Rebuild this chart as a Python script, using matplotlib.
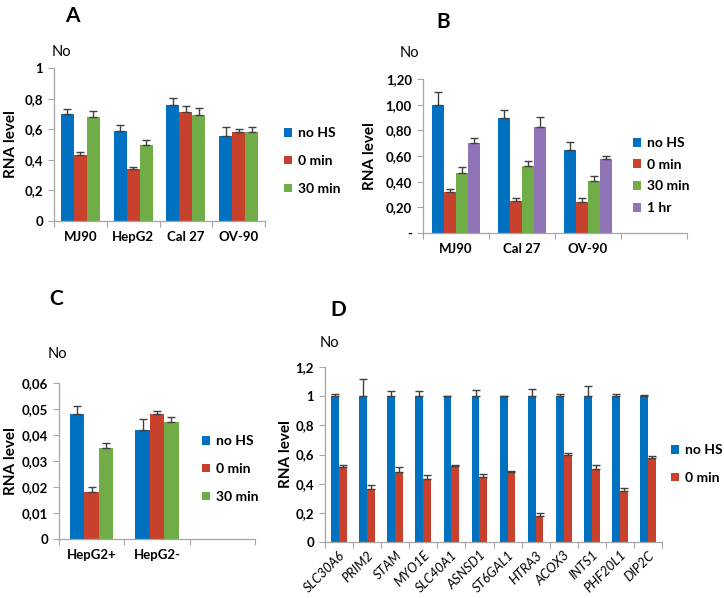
import numpy as np
import matplotlib
matplotlib.use("Agg")
import matplotlib.pyplot as plt
from matplotlib.patches import Patch

plt.rcParams['font.family'] = ['Lato', 'DejaVu Sans']

# ---------------- data ----------------
cats_a = ["MJ90", "HepG2", "Cal 27", "OV-90"]
a_nohs = [0.70, 0.59, 0.76, 0.555]
a_nohs_err = [0.035, 0.035, 0.041, 0.057]
a_0min = [0.43, 0.34, 0.71, 0.58]
a_0min_err = [0.02, 0.013, 0.039, 0.02]
a_30min = [0.68, 0.50, 0.69, 0.58]
a_30min_err = [0.042, 0.028, 0.048, 0.033]

cats_b = ["MJ90", "Cal 27", "OV-90"]
b_nohs = [1.00, 0.90, 0.65]
b_nohs_err = [0.096, 0.06, 0.06]
b_0min = [0.317, 0.249, 0.239]
b_0min_err = [0.028, 0.023, 0.034]
b_30min = [0.468, 0.519, 0.408]
b_30min_err = [0.047, 0.044, 0.036]
b_1hr = [0.70, 0.823, 0.579]
b_1hr_err = [0.042, 0.078, 0.023]

cats_c = ["HepG2+", "HepG2-"]
c_nohs = [0.048, 0.042]
c_nohs_err = [0.0033, 0.004]
c_0min = [0.018, 0.048]
c_0min_err = [0.0021, 0.0012]
c_30min = [0.035, 0.045]
c_30min_err = [0.002, 0.002]

genes_d = ["SLC30A6", "PRIM2", "STAM", "MYO1E", "SLC40A1", "ASNSD1",
           "ST6GAL1", "HTRA3", "ACOX3", "INTS1", "PHF20L1", "DIP2C"]
d_nohs = [1.0, 1.0, 1.0, 1.0, 1.0, 1.0, 1.0, 1.0, 1.0, 1.0, 1.0, 1.0]
d_nohs_err = [0.012, 0.115, 0.036, 0.036, 0.003, 0.045, 0.0, 0.047, 0.018, 0.073, 0.015, 0.008]
d_0min = [0.515, 0.362, 0.483, 0.435, 0.524, 0.444, 0.483, 0.18, 0.595, 0.501, 0.353, 0.576]
d_0min_err = [0.013, 0.027, 0.03, 0.025, 0.005, 0.02, 0.003, 0.016, 0.016, 0.027, 0.014, 0.014]

ticks_a = ["0", "0,2", "0,4", "0,6", "0,8", "1"]
ticks_b = ["-", "0,20", "0,40", "0,60", "0,80", "1,00", "1,20"]
ticks_c = ["0", "0,01", "0,02", "0,03", "0,04", "0,05", "0,06"]
ticks_d = ["0", "0,2", "0,4", "0,6", "0,8", "1", "1,2"]

BLUE = "#0070C0"
RED = "#C8412D"
GREEN = "#70AD47"
PURPLE = "#8F75B8"
AXC = "#A6A6A6"

W, H = 724, 598
fig = plt.figure(figsize=(W / 100, H / 100), dpi=100)


def px_axes(x0, x1, ytop, ybot):
    return fig.add_axes([x0 / W, 1 - ybot / H, (x1 - x0) / W, (ybot - ytop) / H])


def panel(ax, cats, nslots, series, bw, ymax, ystep, yticklabels,
          italic_rot=False):
    n = len(series)
    x = np.arange(len(cats))
    for i, (vals, errs, col) in enumerate(series):
        off = (i - (n - 1) / 2) * bw
        ax.bar(x + off, vals, bw, color=col, zorder=2)
        ax.errorbar(x + off, vals, yerr=[np.zeros(len(vals)), errs], fmt='none',
                    ecolor="#404040", elinewidth=1.0, capsize=3, capthick=1.0, zorder=3)
    ax.set_xlim(-0.5, nslots - 0.5)
    ax.set_ylim(0, ymax)
    yt = np.arange(len(yticklabels)) * ystep
    ax.set_yticks(yt)
    ax.set_yticklabels(yticklabels, fontsize=9.5, fontweight='bold')
    ax.set_xticks(np.arange(nslots + 1) - 0.5)
    ax.set_xticklabels([])
    ax.set_xticks(x, minor=True)
    if italic_rot:
        ax.set_xticklabels(cats, minor=True, fontsize=9.5, style='italic',
                           rotation=45, ha='right', rotation_mode='anchor')
    else:
        ax.set_xticklabels(cats, minor=True, fontsize=9.5, fontweight='bold')
    ax.tick_params(axis='x', which='minor', length=0, pad=7)
    ax.tick_params(axis='x', which='major', length=4, color=AXC, direction='out')
    ax.tick_params(axis='y', length=4, color=AXC, direction='out', pad=4)
    for s in ['top', 'right']:
        ax.spines[s].set_visible(False)
    for s in ['left', 'bottom']:
        ax.spines[s].set_color(AXC)
        ax.spines[s].set_linewidth(0.9)
    ax.set_ylabel("RNA level", fontsize=11, fontweight='bold')


def legend(ax, labels, colors, xpx, ypx, spacing):
    handles = [Patch(facecolor=c, edgecolor='none') for c in colors]
    ax.legend(handles, labels, loc='upper left',
              bbox_to_anchor=(xpx / W, 1 - ypx / H), bbox_transform=fig.transFigure,
              frameon=False, handlelength=0.6, handleheight=0.6, handletextpad=0.4,
              labelspacing=spacing, borderaxespad=0, borderpad=0,
              prop={'weight': 'bold', 'size': 10})


# Panel A
axA = px_axes(54, 265, 68, 221)
panel(axA, cats_a, 4, [(a_nohs, a_nohs_err, BLUE), (a_0min, a_0min_err, RED),
                       (a_30min, a_30min_err, GREEN)], 0.245, 1.0, 0.2, ticks_a)
axA.yaxis.set_label_coords(-0.17, 0.5)
legend(axA, ["no HS", "0 min", "30 min"], [BLUE, RED, GREEN], 284, 127, 1.15)
fig.text(52 / W, 1 - 52 / H, "No", fontsize=10.5, va='center', ha='left')
fig.text(72 / W, 1 - 16 / H, "A", fontsize=15, fontweight='bold', va='center', ha='center')

# Panel B
axB = px_axes(423, 687, 79, 233)
panel(axB, cats_b, 4, [(b_nohs, b_nohs_err, BLUE), (b_0min, b_0min_err, RED),
                       (b_30min, b_30min_err, GREEN), (b_1hr, b_1hr_err, PURPLE)],
      0.18, 1.2, 0.2, ticks_b)
axB.yaxis.set_label_coords(-0.174, 0.5)
legend(axB, ["no HS", "0 min", "30 min", "1 hr"], [BLUE, RED, GREEN, PURPLE], 633, 137, 0.7)
fig.text(400 / W, 1 - 53 / H, "No", fontsize=10.5, va='center', ha='left')
fig.text(443 / W, 1 - 22 / H, "B", fontsize=15, fontweight='bold', va='center', ha='center')

# Panel C
axC = px_axes(59, 255, 383, 539)
panel(axC, cats_c, 3, [(c_nohs, c_nohs_err, BLUE), (c_0min, c_0min_err, RED),
                       (c_30min, c_30min_err, GREEN)], 0.22, 0.06, 0.01, ticks_c)
axC.yaxis.set_label_coords(-0.21, 0.5)
legend(axC, ["no HS", "0 min", "30 min"], [BLUE, RED, GREEN], 202, 435, 1.15)
fig.text(48 / W, 1 - 354 / H, "No", fontsize=10.5, va='center', ha='left')
fig.text(56 / W, 1 - 299 / H, "C", fontsize=15, fontweight='bold', va='center', ha='center')

# Panel D
axD = px_axes(325, 662, 367, 542)
panel(axD, genes_d, 12, [(d_nohs, d_nohs_err, BLUE), (d_0min, d_0min_err, RED)],
      0.28, 1.2, 0.2, ticks_d, italic_rot=True)
axD.tick_params(axis='x', which='minor', pad=5)
axD.yaxis.set_label_coords(-0.095, 0.5)
legend(axD, ["no HS", "0 min"], [BLUE, RED], 671, 444, 1.15)
fig.text(320 / W, 1 - 343 / H, "No", fontsize=10.5, va='center', ha='left')
fig.text(338 / W, 1 - 310 / H, "D", fontsize=15, fontweight='bold', va='center', ha='center')

fig.savefig("out.png", dpi=100)
